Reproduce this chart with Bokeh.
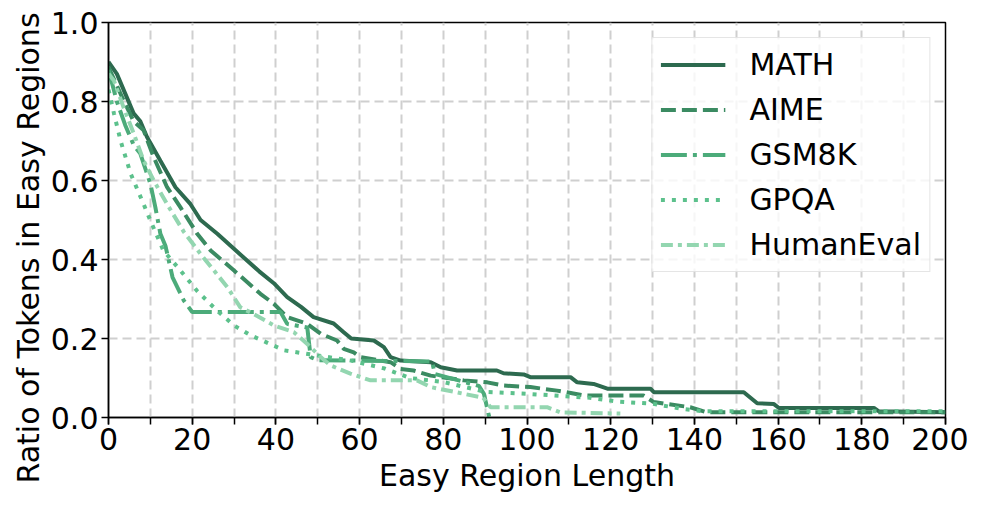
from bokeh.plotting import figure
from bokeh.models import (Range1d, SingleIntervalTicker, FixedTicker, PrintfTickFormatter,
                          Title, Legend)
from bokeh.embed import file_html
from bokeh.resources import INLINE

# ---- data ----
math_x = [0, 2, 4, 6, 7.6, 9.2, 12.4, 16, 19.6, 22, 26, 32.3, 36, 39.5, 42.7, 46, 49, 53.8, 56.2, 58,
          59.4, 63.4, 65.8, 67.4, 69.8, 77, 79.4, 83.3, 92.8, 94.4, 99.2, 100.8, 110.4, 112, 115.9,
          119.2, 129.5, 130.3, 151.8, 155, 159, 160.2, 182.9, 184, 200]
math_y = [0.90, 0.87, 0.82, 0.77, 0.75, 0.71, 0.65, 0.583, 0.54, 0.50, 0.465, 0.405, 0.37, 0.34, 0.305,
          0.28, 0.254, 0.238, 0.216, 0.20, 0.199, 0.195, 0.178, 0.153, 0.144, 0.14, 0.127, 0.119, 0.119,
          0.112, 0.109, 0.102, 0.102, 0.089, 0.085, 0.073, 0.073, 0.064, 0.064, 0.036, 0.034, 0.024,
          0.024, 0.016, 0.013]

aime_x = [0, 3.3, 6, 8.4, 10.8, 14, 17.2, 21.2, 24.4, 30, 36.3, 39.5, 42.7, 47.5, 50.7, 54.6, 56.2,
          58.6, 60.2, 67.4, 69.8, 72.9, 77, 84.9, 90.5, 94.4, 100.8, 107.2, 113.6, 127.8, 130.3, 139,
          143, 200]
aime_y = [0.887, 0.81, 0.75, 0.727, 0.659, 0.583, 0.532, 0.465, 0.423, 0.372, 0.313, 0.288, 0.254,
          0.237, 0.212, 0.195, 0.174, 0.165, 0.153, 0.14, 0.123, 0.119, 0.106, 0.094, 0.089, 0.081,
          0.077, 0.068, 0.056, 0.056, 0.039, 0.026, 0.013, 0.013]

gsm_x = [0, 2, 4, 6, 7.6, 10, 11.2, 12.4, 13.6, 15.3, 18, 20, 41.1, 42.7, 47.5, 48.3, 50, 77.3, 78,
         88.5, 89.7, 91]
gsm_y = [0.88, 0.80, 0.74, 0.69, 0.668, 0.592, 0.532, 0.465, 0.435, 0.355, 0.296, 0.267, 0.267, 0.237,
         0.228, 0.153, 0.145, 0.142, 0.11, 0.08, 0.06, 0.0]

gpqa_x = [0, 1.3, 2.9, 5.3, 8.4, 10, 13.1, 17.2, 21.2, 26, 30, 34, 42, 50, 58, 66, 72, 80, 90, 100,
          115, 122, 130, 137, 142, 200]
gpqa_y = [0.83, 0.77, 0.70, 0.617, 0.54, 0.499, 0.423, 0.372, 0.32, 0.27, 0.233, 0.208, 0.17, 0.157,
          0.144, 0.124, 0.10, 0.09, 0.065, 0.06, 0.05, 0.04, 0.035, 0.022, 0.016, 0.016]

he_x = [0, 1.3, 3.6, 6, 8.4, 10.8, 14, 18, 22, 25.2, 28.4, 31.5, 34.7, 39.5, 44.3, 47.5, 50.7, 53,
        57.8, 62.6, 73.7, 77, 84.9, 89.5, 91.3, 104.8, 108, 122.3]
he_y = [0.87, 0.853, 0.785, 0.72, 0.65, 0.60, 0.54, 0.47, 0.414, 0.372, 0.33, 0.279, 0.262, 0.233,
        0.216, 0.186, 0.153, 0.132, 0.111, 0.094, 0.094, 0.077, 0.06, 0.05, 0.026, 0.026, 0.013, 0.01]

names = ["MATH", "AIME", "GSM8K", "GPQA", "HumanEval"]
xs = [math_x, aime_x, gsm_x, gpqa_x, he_x]
ys = [math_y, aime_y, gsm_y, gpqa_y, he_y]
colors = ["#2d6a4f", "#3b8b62", "#4cab7a", "#5cc18c", "#93d6b0"]
dashes = ["solid", "15 6", "26 6 4 6", "4 7", "12 5 4 5"]

y_ticks = [0.0, 0.2, 0.4, 0.6, 0.8, 1.0]
FONT = "DejaVu Sans"

p = figure(width=968, height=498, output_backend="svg", toolbar_location=None,
           x_range=Range1d(0, 200), y_range=Range1d(0, 1.0),
           min_border_left=108, min_border_right=23, min_border_top=22, min_border_bottom=81)
p.background_fill_color = "white"
p.border_fill_color = "white"
p.outline_line_color = "black"
p.outline_line_width = 1.5

# axes
p.xaxis.ticker = SingleIntervalTicker(interval=20, num_minor_ticks=2)
p.yaxis.ticker = FixedTicker(ticks=y_ticks)
p.yaxis.formatter = PrintfTickFormatter(format="%.1f")
for ax in (p.xaxis, p.yaxis):
    ax.major_label_text_font = FONT
    ax.major_label_text_font_size = "30px"
    ax.major_label_text_color = "black"
    ax.axis_line_color = "black"
    ax.axis_line_width = 1.5
    ax.major_tick_line_width = 1.5
    ax.minor_tick_line_width = 1.5
    ax.major_tick_out = 7
    ax.major_tick_in = 0
    ax.minor_tick_out = 7
    ax.minor_tick_in = 0
    ax.major_label_standoff = 3
p.yaxis.minor_tick_line_color = None
p.xaxis.axis_label = "Easy Region Length"
p.xaxis.axis_label_text_font = FONT
p.xaxis.axis_label_text_font_size = "30px"
p.xaxis.axis_label_text_font_style = "normal"
p.xaxis.axis_label_text_color = "black"
p.xaxis.axis_label_standoff = 5

# grid
p.xgrid.ticker = SingleIntervalTicker(interval=10, num_minor_ticks=0)
p.ygrid.ticker = FixedTicker(ticks=y_ticks)
for g in (p.xgrid, p.ygrid):
    g.grid_line_color = "#cfcfcf"
    g.grid_line_width = 2
    g.grid_line_dash = "9 5"

# lines
items = []
for name, x, y, c, d in zip(names, xs, ys, colors, dashes):
    r = p.line(x, y, line_color=c, line_width=4, line_dash=d)
    items.append((name, [r]))

legend = Legend(items=items, location="top_right", margin=15, padding=8, spacing=8,
                glyph_width=65, glyph_height=37, label_height=37, label_standoff=24,
                label_text_font=FONT, label_text_font_size="30px", label_text_color="black",
                border_line_color="#cccccc", border_line_width=1.5,
                background_fill_color="white", background_fill_alpha=0.8)
p.add_layout(legend, "center")

# y axis title, placed like the reference (a little below the frame centre)
ytitle = Title(text="Ratio of Tokens in Easy Regions", align="left", offset=-66,
               text_font=FONT, text_font_size="30px", text_font_style="normal",
               text_color="black", standoff=4)
p.add_layout(ytitle, "left")

open("out.html", "w").write(file_html(p, INLINE))
